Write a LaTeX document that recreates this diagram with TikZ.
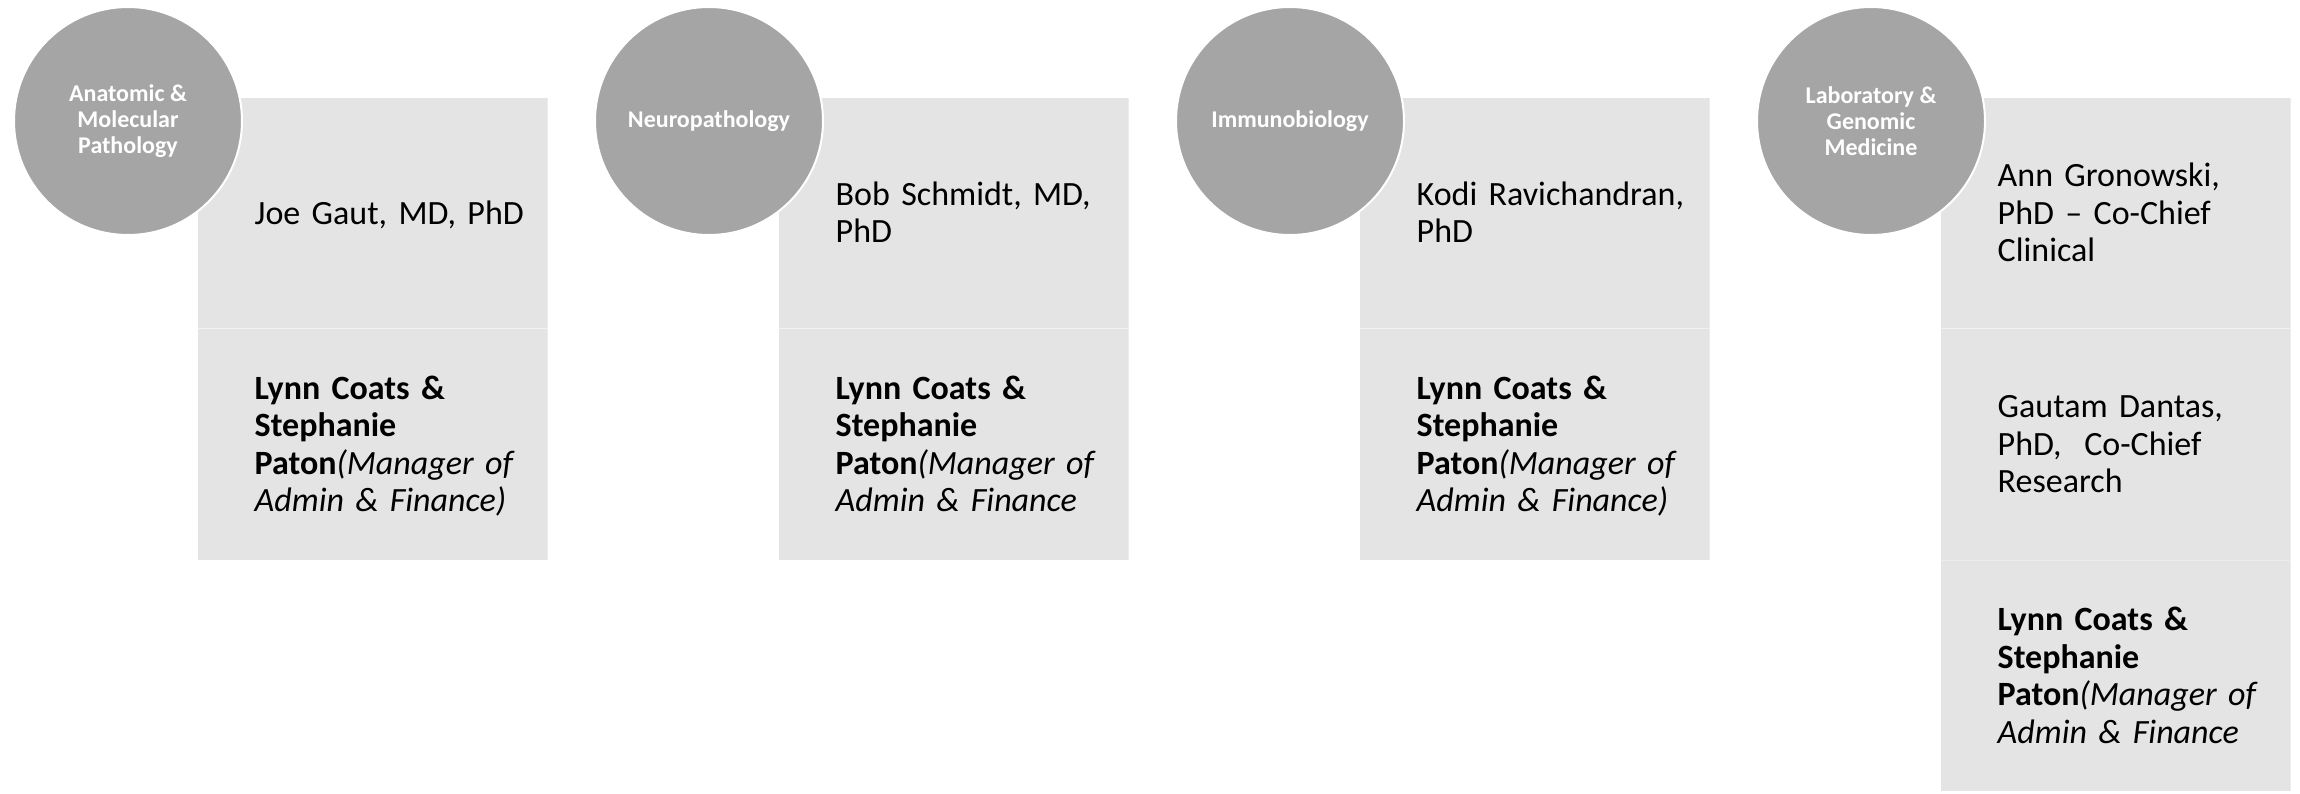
\documentclass[tikz,border=0pt]{standalone}
\usepackage{fontspec}
\setmainfont{Carlito}
\frenchspacing
\usetikzlibrary{calc}
\definecolor{deptgray}{HTML}{A5A5A5}
\definecolor{cellgray}{HTML}{E4E4E4}
\newcommand{\adminPair}[1]{\textbf{Lynn Coats \&}\\\textbf{Stephanie}\\\textbf{Paton}\textit{(Manager of}\\\textit{Admin \& Finance#1}}

\begin{document}
\begin{tikzpicture}[x=1pt, y=-1pt]
            \tikzstyle{dept} = [circle, minimum size=228, inner sep=0, fill=deptgray, draw=white, line width=2pt, text=white, align=center, font=\fontsize{24}{26}\selectfont\bfseries]
            \tikzstyle{cell} = [rectangle, anchor=north west, minimum width=350, minimum height=231.3, inner sep=0, fill=cellgray, draw=white, draw opacity=0.3, line width=1pt]
            \tikzstyle{who} = [anchor=base west, inner sep=0, text width=290, align=left, font=\fontsize{34}{37.5}\selectfont]
            \useasboundingbox (0, 0) rectangle (2300, 793);

            % Anatomic & Molecular Pathology
            \node[cell] (anatomicChief) at (197, 97) {};
            \node[cell] (anatomicAdmin) at (197, 328.3) {};
            \node[dept] (anatomic) at (128, 121) {Anatomic \&\\Molecular\\Pathology};
            \node[who] (anatomicChiefText) at ($(anatomicChief.center) + (-118, 11)$) {Joe Gaut, MD, PhD};
            \node[who] (anatomicAdminText) at ($(anatomicAdmin.center) + (-118, -45.25)$) {\adminPair{)}};

            % Neuropathology
            \node[cell] (neuroChief) at (778, 97) {};
            \node[cell] (neuroAdmin) at (778, 328.3) {};
            \node[dept] (neuro) at (709, 121) {Neuropathology};
            \node[who] (neuroChiefText) at ($(neuroChief.center) + (-118, -7.75)$) {Bob Schmidt, MD,\\PhD};
            \node[who] (neuroAdminText) at ($(neuroAdmin.center) + (-118, -45.25)$) {\adminPair{}};

            % Immunobiology
            \node[cell] (immunoChief) at (1359, 97) {};
            \node[cell] (immunoAdmin) at (1359, 328.3) {};
            \node[dept] (immuno) at (1290, 121) {Immunobiology};
            \node[who] (immunoChiefText) at ($(immunoChief.center) + (-118, -7.75)$) {Kodi Ravichandran,\\PhD};
            \node[who] (immunoAdminText) at ($(immunoAdmin.center) + (-118, -45.25)$) {\adminPair{)}};

            % Laboratory & Genomic Medicine
            \node[cell] (labClinical) at (1940, 97) {};
            \node[cell] (labResearch) at (1940, 328.3) {};
            \node[cell] (labAdmin) at (1940, 559.6) {};
            \node[dept] (labmed) at (1871, 121) {Laboratory \&\\Genomic\\Medicine};
            \node[who] (labClinicalText) at ($(labClinical.center) + (-118, -26.5)$) {Ann Gronowski,\\PhD -- Co-Chief\\Clinical};
            \node[who] (labResearchText) at ($(labResearch.center) + (-118, -26.5)$) {Gautam Dantas,\\PhD,\ \ Co-Chief\\Research};
            \node[who] (labAdminText) at ($(labAdmin.center) + (-118, -45.25)$) {\adminPair{}};
        \end{tikzpicture}
\end{document}
